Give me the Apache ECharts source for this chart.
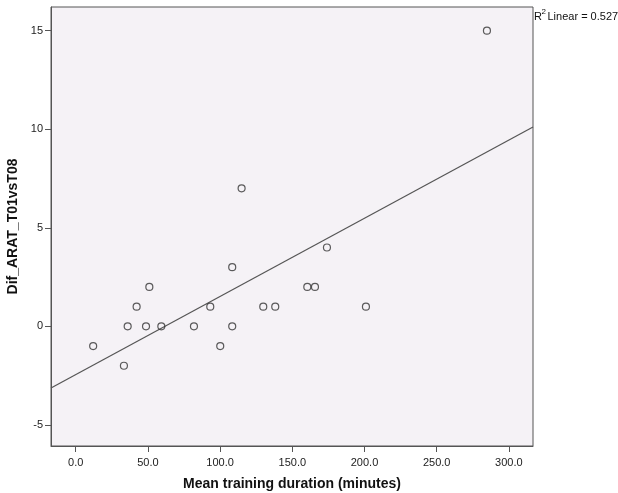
<!DOCTYPE html>
<html>
<head>
<meta charset="utf-8">
<script src="https://cdn.jsdelivr.net/npm/echarts@6/dist/echarts.min.js"></script>
<style>
    html, body { margin: 0; padding: 0; background: #fff; }
    #chart { width: 618px; height: 493px; }
</style>
</head>
<body>
<div id="chart"></div>
<script>
// minutes vs. ARAT difference
const duration = [12.1, 33.4, 36.0, 42.2, 48.7, 51.0, 59.3, 81.9, 93.2, 100.1,
    108.4, 108.4, 114.9, 129.9, 138.2, 160.4, 165.7, 174.0, 201.0, 284.8];
const aratDiff = [-1, -2, 0, 1, 0, 2, 0, 0, 1, -1,
    0, 3, 7, 1, 1, 2, 2, 4, 1, 15];
const xTicks = [0, 50, 100, 150, 200, 250, 300];
const yTicks = [-5, 0, 5, 10, 15];
const xRange = [-17.1, 316.7];
const yRange = [-6.07, 16.2];
const r2Text = 'Linear = 0.527';

// least squares fit
function linearFit(xs, ys) {
    var n = xs.length, mx = 0, my = 0;
    for (var i = 0; i < n; i++) { mx += xs[i]; my += ys[i]; }
    mx /= n; my /= n;
    var sxy = 0, sxx = 0;
    for (var i = 0; i < n; i++) {
        sxy += (xs[i] - mx) * (ys[i] - my);
        sxx += (xs[i] - mx) * (xs[i] - mx);
    }
    var b = sxy / sxx;
    return { slope: b, intercept: my - b * mx };
}
const fit = linearFit(duration, aratDiff);
const fitLine = xRange.map(function (x) { return [x, fit.intercept + fit.slope * x]; });

const points = duration.map(function (x, i) { return [x, aratDiff[i]]; });

const chart = echarts.init(document.getElementById('chart'), null, { renderer: 'canvas' });
const labelFont = { fontFamily: 'Liberation Sans, Arial, sans-serif', fontSize: 11, color: '#222' };
const nameFont = { fontFamily: 'Liberation Sans, Arial, sans-serif', fontSize: 14, fontWeight: 'bold', color: '#111' };

chart.setOption({
    animation: false,
    backgroundColor: '#fff',
    grid: {
        left: 51, top: 7, right: 85, bottom: 47,
        containLabel: false,
        outerBoundsMode: 'none',
        show: true,
        backgroundColor: '#F5F2F6',
        borderColor: '#555',
        borderWidth: 1
    },
    xAxis: {
        type: 'value',
        min: xRange[0], max: xRange[1],
        name: 'Mean training duration (minutes)',
        nameLocation: 'middle',
        nameGap: 31,
        nameTextStyle: nameFont,
        axisLine: { show: true, onZero: false, lineStyle: { color: '#555' } },
        axisTick: { show: true, length: 6, lineStyle: { color: '#555' }, customValues: xTicks },
        axisLabel: Object.assign({ margin: 11, customValues: xTicks, formatter: function (v) { return v.toFixed(1); } }, labelFont),
        splitLine: { show: false }
    },
    yAxis: {
        type: 'value',
        min: yRange[0], max: yRange[1],
        name: 'Dif_ARAT_T01vsT08',
        nameLocation: 'middle',
        nameRotate: 90,
        nameGap: 27,
        nameTextStyle: nameFont,
        axisLine: { show: true, onZero: false, lineStyle: { color: '#555' } },
        axisTick: { show: true, length: 6, lineStyle: { color: '#555' }, customValues: yTicks },
        axisLabel: Object.assign({ margin: 8, customValues: yTicks, formatter: function (v) { return String(v); } }, labelFont),
        splitLine: { show: false }
    },
    series: [
        {
            type: 'line',
            data: fitLine,
            symbol: 'none',
            lineStyle: { color: '#555', width: 1.2 },
            z: 1
        },
        {
            type: 'scatter',
            data: points,
            symbol: 'circle',
            symbolSize: 7,
            itemStyle: { color: 'rgba(0,0,0,0)', borderColor: '#333', borderWidth: 1.2 },
            z: 2
        }
    ],
    graphic: [
        { type: 'text', left: 534, top: 11, style: { text: 'R', font: '11px "Liberation Sans", Arial, sans-serif', fill: '#111' } },
        { type: 'text', left: 541.5, top: 8, style: { text: '2', font: '8px "Liberation Sans", Arial, sans-serif', fill: '#111' } },
        { type: 'text', left: 547.5, top: 11, style: { text: r2Text, font: '11px "Liberation Sans", Arial, sans-serif', fill: '#111' } }
    ]
});
</script>
</body>
</html>
